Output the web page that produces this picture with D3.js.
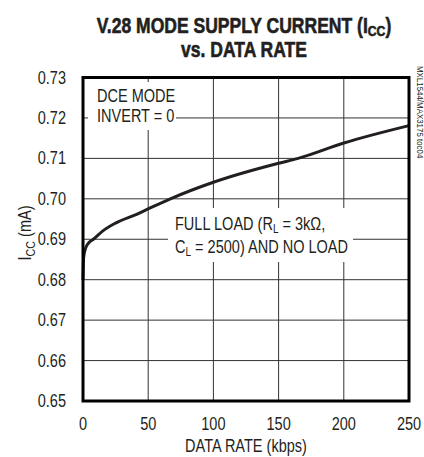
<!DOCTYPE html>
<html><head><meta charset="utf-8">
<script src="https://cdn.jsdelivr.net/npm/d3@7"></script>
<style>
html,body{margin:0;padding:0;background:#fff;}
svg{display:block;}
text{font-family:"Liberation Sans",Arial,sans-serif;fill:#231f20;}
</style></head>
<body>
<svg id="c" width="424" height="457"></svg>
<script>
const dataRate = [0, 0.5, 2, 5, 8, 15, 25, 42, 50, 67, 100, 150, 165, 200, 250];
const icc = [0.680, 0.6855, 0.6878, 0.6893, 0.6900, 0.6920, 0.6940, 0.6963, 0.6975, 0.7000, 0.7041, 0.7088, 0.7100, 0.7138, 0.7181];
const xTicks = [0, 50, 100, 150, 200, 250];
const yTicks = [0.65, 0.66, 0.67, 0.68, 0.69, 0.70, 0.71, 0.72, 0.73];

const svg = d3.select("#c");
const L = 83, R = 409, T = 77.5, B = 401;
const x = d3.scaleLinear().domain([0, 250]).range([L, R]);
const y = d3.scaleLinear().domain([0.65, 0.73]).range([B, T]);
const ink = "#231f20";
const FS = 17.5, SX = 0.83;

function txt(parent, tx, ty, anchor, size, sx, extra) {
  const gg = parent.append("g").attr("transform", `translate(${tx},${ty})${extra || ""} scale(${sx},1)`);
  return gg.append("text").attr("text-anchor", anchor).attr("font-size", size);
}

// grid
const g = svg.append("g");
g.selectAll("line.v").data(xTicks.slice(1, -1)).join("line")
  .attr("x1", d => x(d)).attr("x2", d => x(d)).attr("y1", T).attr("y2", B)
  .attr("stroke", "#333").attr("stroke-width", 1);
g.selectAll("line.h").data(yTicks.slice(1, -1)).join("line")
  .attr("x1", L).attr("x2", R).attr("y1", d => y(d)).attr("y2", d => y(d))
  .attr("stroke", "#333").attr("stroke-width", 1);

// white boxes behind annotations
svg.append("rect").attr("x", 88).attr("y", 82).attr("width", 88).attr("height", 48).attr("fill", "#fff");
svg.append("rect").attr("x", 168).attr("y", 208).attr("width", 185).attr("height", 54).attr("fill", "#fff");

// curve
svg.append("path")
  .datum(dataRate.map((d, i) => [d, icc[i]]))
  .attr("d", d3.line().x(d => x(d[0])).y(d => y(d[1])).curve(d3.curveMonotoneX))
  .attr("fill", "none").attr("stroke", ink).attr("stroke-width", 3).attr("stroke-linejoin", "round");

// frame
svg.append("rect").attr("x", L).attr("y", T).attr("width", R - L).attr("height", B - T)
  .attr("fill", "none").attr("stroke", "#000").attr("stroke-width", 3);

// tick labels
yTicks.forEach(d => txt(svg, 66, y(d) + 6, "end", FS, SX).text(d.toFixed(2)));
xTicks.forEach(d => txt(svg, x(d), 430, "middle", FS, SX).text(d));

txt(svg, 246, 452, "middle", FS, SX).text("DATA RATE (kbps)");

const yl = txt(svg, 31, 233, "middle", FS, SX, " rotate(-90)");
yl.append("tspan").text("I");
yl.append("tspan").attr("font-size", 13).attr("dy", 4).text("CC");
yl.append("tspan").attr("dy", -4).text(" (mA)");

// title
const t1 = txt(svg, 244, 32.5, "middle", 21.5, 0.815);
t1.attr("font-weight", "bold").attr("stroke", ink).attr("stroke-width", 0.6);
t1.append("tspan").text("V.28 MODE SUPPLY CURRENT (I");
t1.append("tspan").attr("font-size", 15).attr("dy", 3).text("CC");
t1.append("tspan").attr("dy", -3).text(")");
txt(svg, 244, 56.5, "middle", 21.5, 0.815).attr("font-weight", "bold")
  .attr("stroke", ink).attr("stroke-width", 0.6).text("vs. DATA RATE");

// annotations
txt(svg, 97, 102, "start", FS, SX).text("DCE MODE");
txt(svg, 97, 122, "start", FS, SX).text("INVERT = 0");

const a1 = txt(svg, 175, 229.5, "start", FS, SX);
a1.append("tspan").text("FULL LOAD (R");
a1.append("tspan").attr("font-size", 12).attr("dy", 3).text("L");
a1.append("tspan").attr("dy", -3).text(" = 3k\u03A9,");
const a2 = txt(svg, 175, 253, "start", FS, SX);
a2.append("tspan").text("C");
a2.append("tspan").attr("font-size", 12).attr("dy", 3).text("L");
a2.append("tspan").attr("dy", -3).text(" = 2500) AND NO LOAD");

// side label
txt(svg, 417, 66, "start", 9, 0.88, " rotate(90)").text("MXL1544/MAX3175 toc04");
</script>
</body></html>
